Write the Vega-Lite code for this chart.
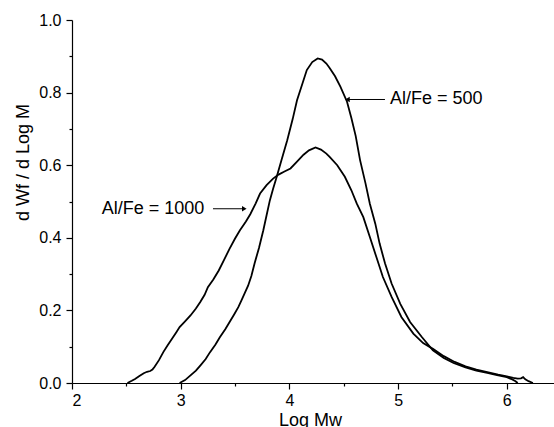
{
  "$schema": "https://vega.github.io/schema/vega-lite/v6.json",
  "autosize": {"type": "none"},
  "padding": {"left": 72, "top": 20, "right": 0, "bottom": 44},
  "width": 482,
  "height": 363,
  "background": "white",
  "config": {
    "view": {"stroke": null},
    "font": "Liberation Sans",
    "axis": {
      "grid": false,
      "domainColor": "black",
      "tickColor": "black",
      "labelColor": "black",
      "titleColor": "black",
      "labelFont": "Liberation Sans",
      "titleFont": "Liberation Sans",
      "labelFontSize": 16,
      "titleFontSize": 18,
      "titleFontWeight": "normal",
      "domainWidth": 1.2,
      "tickWidth": 1.2
    }
  },
  "resolve": {"axis": {"x": "independent", "y": "independent"}},
  "datasets": {
    "curves": [
      {"series": "500", "logmw": 2.99, "v": 0},
      {"series": "500", "logmw": 3.04, "v": 0.008},
      {"series": "500", "logmw": 3.09, "v": 0.021},
      {"series": "500", "logmw": 3.14, "v": 0.034},
      {"series": "500", "logmw": 3.18, "v": 0.048},
      {"series": "500", "logmw": 3.23, "v": 0.066},
      {"series": "500", "logmw": 3.27, "v": 0.085},
      {"series": "500", "logmw": 3.32, "v": 0.106},
      {"series": "500", "logmw": 3.36, "v": 0.126},
      {"series": "500", "logmw": 3.41, "v": 0.148},
      {"series": "500", "logmw": 3.45, "v": 0.168},
      {"series": "500", "logmw": 3.49, "v": 0.188},
      {"series": "500", "logmw": 3.53, "v": 0.209},
      {"series": "500", "logmw": 3.56, "v": 0.228},
      {"series": "500", "logmw": 3.59, "v": 0.248},
      {"series": "500", "logmw": 3.62, "v": 0.268},
      {"series": "500", "logmw": 3.65, "v": 0.295},
      {"series": "500", "logmw": 3.68, "v": 0.33},
      {"series": "500", "logmw": 3.72, "v": 0.372},
      {"series": "500", "logmw": 3.76, "v": 0.421},
      {"series": "500", "logmw": 3.79, "v": 0.462},
      {"series": "500", "logmw": 3.82, "v": 0.503},
      {"series": "500", "logmw": 3.85, "v": 0.535},
      {"series": "500", "logmw": 3.88, "v": 0.565},
      {"series": "500", "logmw": 3.93, "v": 0.617},
      {"series": "500", "logmw": 3.98, "v": 0.669},
      {"series": "500", "logmw": 4.03, "v": 0.727},
      {"series": "500", "logmw": 4.07, "v": 0.779},
      {"series": "500", "logmw": 4.12, "v": 0.825},
      {"series": "500", "logmw": 4.16, "v": 0.862},
      {"series": "500", "logmw": 4.21, "v": 0.884},
      {"series": "500", "logmw": 4.26, "v": 0.894},
      {"series": "500", "logmw": 4.3, "v": 0.891},
      {"series": "500", "logmw": 4.34, "v": 0.88},
      {"series": "500", "logmw": 4.37, "v": 0.868},
      {"series": "500", "logmw": 4.42, "v": 0.845},
      {"series": "500", "logmw": 4.47, "v": 0.816},
      {"series": "500", "logmw": 4.53, "v": 0.775},
      {"series": "500", "logmw": 4.57, "v": 0.73},
      {"series": "500", "logmw": 4.61, "v": 0.68},
      {"series": "500", "logmw": 4.65, "v": 0.614},
      {"series": "500", "logmw": 4.7, "v": 0.55},
      {"series": "500", "logmw": 4.74, "v": 0.494},
      {"series": "500", "logmw": 4.79, "v": 0.439},
      {"series": "500", "logmw": 4.83, "v": 0.384},
      {"series": "500", "logmw": 4.88, "v": 0.329},
      {"series": "500", "logmw": 4.94, "v": 0.274},
      {"series": "500", "logmw": 5.02, "v": 0.218},
      {"series": "500", "logmw": 5.11, "v": 0.168},
      {"series": "500", "logmw": 5.22, "v": 0.126},
      {"series": "500", "logmw": 5.32, "v": 0.09},
      {"series": "500", "logmw": 5.42, "v": 0.069},
      {"series": "500", "logmw": 5.51, "v": 0.055},
      {"series": "500", "logmw": 5.62, "v": 0.043},
      {"series": "500", "logmw": 5.72, "v": 0.034},
      {"series": "500", "logmw": 5.82, "v": 0.028},
      {"series": "500", "logmw": 5.91, "v": 0.022},
      {"series": "500", "logmw": 6.0, "v": 0.016},
      {"series": "500", "logmw": 6.05, "v": 0.01},
      {"series": "500", "logmw": 6.08, "v": 0.005},
      {"series": "500", "logmw": 6.1, "v": 0},
      {"series": "1000", "logmw": 2.51, "v": 0},
      {"series": "1000", "logmw": 2.55, "v": 0.006},
      {"series": "1000", "logmw": 2.58, "v": 0.011},
      {"series": "1000", "logmw": 2.62, "v": 0.019},
      {"series": "1000", "logmw": 2.66, "v": 0.027},
      {"series": "1000", "logmw": 2.69, "v": 0.031},
      {"series": "1000", "logmw": 2.72, "v": 0.033},
      {"series": "1000", "logmw": 2.74, "v": 0.037},
      {"series": "1000", "logmw": 2.76, "v": 0.045},
      {"series": "1000", "logmw": 2.8, "v": 0.063},
      {"series": "1000", "logmw": 2.84, "v": 0.085},
      {"series": "1000", "logmw": 2.88, "v": 0.104},
      {"series": "1000", "logmw": 2.92, "v": 0.122},
      {"series": "1000", "logmw": 2.96, "v": 0.14},
      {"series": "1000", "logmw": 2.99, "v": 0.154},
      {"series": "1000", "logmw": 3.04, "v": 0.17},
      {"series": "1000", "logmw": 3.09, "v": 0.186},
      {"series": "1000", "logmw": 3.14, "v": 0.205},
      {"series": "1000", "logmw": 3.18, "v": 0.223},
      {"series": "1000", "logmw": 3.22, "v": 0.243},
      {"series": "1000", "logmw": 3.25, "v": 0.264},
      {"series": "1000", "logmw": 3.3, "v": 0.285},
      {"series": "1000", "logmw": 3.35, "v": 0.31},
      {"series": "1000", "logmw": 3.4, "v": 0.34},
      {"series": "1000", "logmw": 3.45, "v": 0.37},
      {"series": "1000", "logmw": 3.5, "v": 0.398},
      {"series": "1000", "logmw": 3.545, "v": 0.421},
      {"series": "1000", "logmw": 3.6, "v": 0.445},
      {"series": "1000", "logmw": 3.64, "v": 0.465},
      {"series": "1000", "logmw": 3.69, "v": 0.495},
      {"series": "1000", "logmw": 3.73, "v": 0.522},
      {"series": "1000", "logmw": 3.79, "v": 0.545},
      {"series": "1000", "logmw": 3.85, "v": 0.563},
      {"series": "1000", "logmw": 3.9, "v": 0.574},
      {"series": "1000", "logmw": 3.95, "v": 0.582},
      {"series": "1000", "logmw": 4.01, "v": 0.591},
      {"series": "1000", "logmw": 4.07, "v": 0.61},
      {"series": "1000", "logmw": 4.13, "v": 0.629},
      {"series": "1000", "logmw": 4.18, "v": 0.641},
      {"series": "1000", "logmw": 4.24, "v": 0.649},
      {"series": "1000", "logmw": 4.29, "v": 0.643},
      {"series": "1000", "logmw": 4.34, "v": 0.632},
      {"series": "1000", "logmw": 4.37, "v": 0.623},
      {"series": "1000", "logmw": 4.44, "v": 0.6},
      {"series": "1000", "logmw": 4.51, "v": 0.568},
      {"series": "1000", "logmw": 4.57, "v": 0.531},
      {"series": "1000", "logmw": 4.62, "v": 0.494},
      {"series": "1000", "logmw": 4.68, "v": 0.457},
      {"series": "1000", "logmw": 4.74, "v": 0.402},
      {"series": "1000", "logmw": 4.8, "v": 0.347},
      {"series": "1000", "logmw": 4.86, "v": 0.292},
      {"series": "1000", "logmw": 4.94, "v": 0.237},
      {"series": "1000", "logmw": 5.03, "v": 0.182},
      {"series": "1000", "logmw": 5.14, "v": 0.136},
      {"series": "1000", "logmw": 5.23, "v": 0.11},
      {"series": "1000", "logmw": 5.32, "v": 0.094},
      {"series": "1000", "logmw": 5.42, "v": 0.074},
      {"series": "1000", "logmw": 5.52, "v": 0.058},
      {"series": "1000", "logmw": 5.62, "v": 0.046},
      {"series": "1000", "logmw": 5.72, "v": 0.037},
      {"series": "1000", "logmw": 5.82, "v": 0.03},
      {"series": "1000", "logmw": 5.92, "v": 0.023},
      {"series": "1000", "logmw": 6.0, "v": 0.018},
      {"series": "1000", "logmw": 6.06, "v": 0.014},
      {"series": "1000", "logmw": 6.1, "v": 0.012},
      {"series": "1000", "logmw": 6.13, "v": 0.013},
      {"series": "1000", "logmw": 6.15, "v": 0.016},
      {"series": "1000", "logmw": 6.17, "v": 0.01},
      {"series": "1000", "logmw": 6.2, "v": 0.005},
      {"series": "1000", "logmw": 6.24, "v": 0}
    ],
    "arrows": [
      {"label": "Al/Fe = 500", "x1": 4.534, "x2": 4.879, "y": 0.781, "tx": 4.925, "head": 4.534, "shape": "triangle-left"},
      {"label": "Al/Fe = 1000", "x1": 3.297, "x2": 3.585, "y": 0.48, "tx": 2.273, "head": 3.585, "shape": "triangle-right"}
    ]
  },
  "layer": [
    {
      "data": {"name": "curves"},
      "mark": {"type": "line", "color": "black", "strokeWidth": 1.8, "interpolate": "linear"},
      "encoding": {
        "x": {
          "field": "logmw", "type": "quantitative",
          "scale": {"domain": [2, 6.434], "nice": false, "zero": false},
          "axis": {
            "orient": "bottom",
            "title": "Log Mw",
            "values": [2, 3, 4, 5, 6],
            "format": "d",
            "tickSize": 6,
            "labelPadding": 3,
            "titleX": 238,
            "titleY": 42,
            "titleBaseline": "alphabetic",
            "titleAnchor": "middle",
            "titleAlign": "center"
          }
        },
        "y": {
          "field": "v", "type": "quantitative",
          "scale": {"domain": [0, 1], "nice": false},
          "axis": {
            "orient": "left",
            "title": "d Wf / d Log M",
            "values": [0, 0.2, 0.4, 0.6, 0.8, 1.0],
            "format": ".1f",
            "tickSize": 6,
            "labelPadding": 5,
            "titleX": -49,
            "titleY": 142,
            "titleBaseline": "middle",
            "titleAlign": "center",
            "titleAngle": -90
          }
        },
        "detail": {"field": "series"}
      }
    },
    {
      "data": {"name": "arrows"},
      "mark": {"type": "rule", "color": "black", "strokeWidth": 1},
      "encoding": {
        "x": {
          "field": "x1", "type": "quantitative",
          "axis": {"orient": "bottom", "title": null, "labels": false, "domain": false, "values": [2.5, 3.5, 4.5, 5.5], "tickSize": 3}
        },
        "x2": {"field": "x2"},
        "y": {
          "field": "y", "type": "quantitative",
          "axis": {"orient": "left", "title": null, "labels": false, "domain": false, "values": [0.1, 0.3, 0.5, 0.7, 0.9], "tickSize": 3}
        }
      }
    },
    {
      "data": {"name": "arrows"},
      "mark": {"type": "point", "filled": true, "color": "black", "size": 28, "opacity": 1},
      "encoding": {
        "x": {"field": "head", "type": "quantitative", "axis": null},
        "y": {"field": "y", "type": "quantitative", "axis": null},
        "shape": {"field": "shape", "type": "nominal", "scale": null}
      }
    },
    {
      "data": {"name": "arrows"},
      "mark": {"type": "text", "align": "left", "baseline": "middle", "fontSize": 18, "font": "Liberation Sans", "color": "black"},
      "encoding": {
        "x": {"field": "tx", "type": "quantitative", "axis": null},
        "y": {"field": "y", "type": "quantitative", "axis": null},
        "text": {"field": "label"}
      }
    }
  ]
}
